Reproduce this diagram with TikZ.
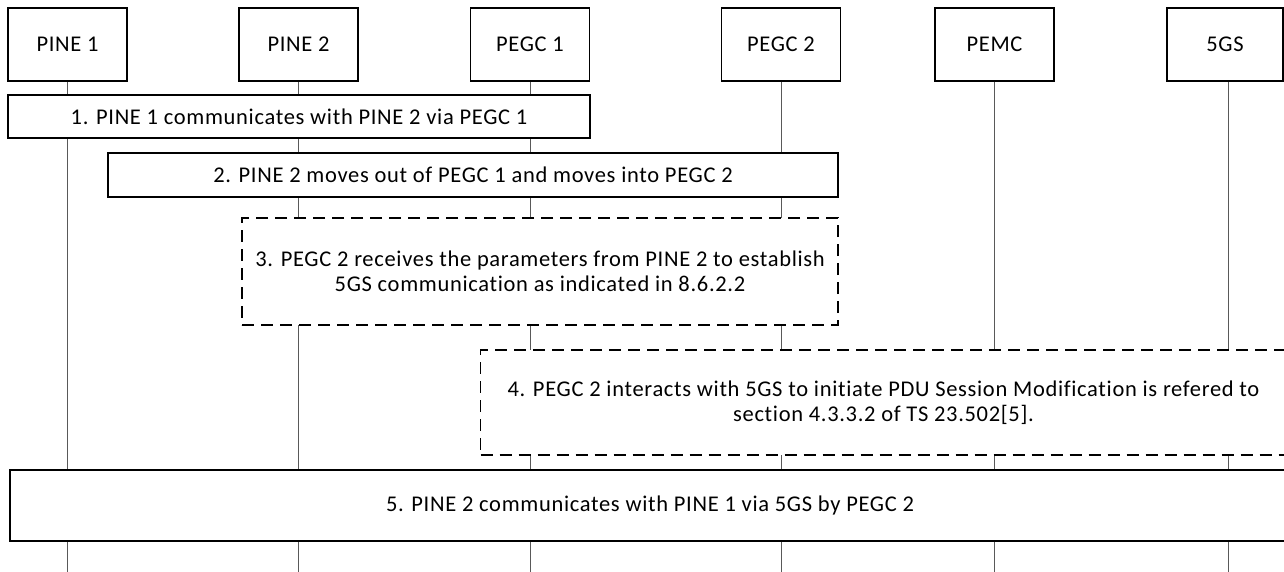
\documentclass[tikz,border=0pt]{standalone}
\usepackage{fontspec}
\setmainfont[LetterSpace=3,Ligatures=NoCommon]{Carlito}
\begin{document}
\begin{tikzpicture}[x=1pt,y=-1pt,
  every node/.style={font=\fontsize{22.5}{25}\selectfont, inner sep=0pt, align=center},
  head/.style={draw=black, line width=1.6pt, fill=white, minimum width=119pt, minimum height=73pt},
  stepbox/.style={draw=black, line width=1.6pt, fill=white},
  dashbox/.style={draw=black, line width=1.6pt, fill=white, dash pattern=on 12pt off 7pt},
  life/.style={draw=black!65, line width=0.9pt}]
\useasboundingbox (0,0) rectangle (1284,572);
\fill[white] (0,0) rectangle (1284,572);
% headers
\node[head] (p1) at (67.5,44.5) {PINE 1};
\node[head] (p2) at (298.5,44.5) {PINE 2};
\node[head] (g1) at (530,44.5) {PEGC 1};
\node[head] (g2) at (781,44.5) {PEGC 2};
\node[head] (pm) at (994.5,44.5) {PEMC};
\node[head, minimum width=116pt] (gs) at (1225,44.5) {5GS};
% lifeline ends
\coordinate (e1) at (67.5,572);
\coordinate (e2) at (298.5,572);
\coordinate (e3) at (530,572);
\coordinate (e4) at (781,572);
\coordinate (e5) at (994.5,572);
\coordinate (e6) at (1228,572);
\draw[life] (p1.south) -- (e1);
\draw[life] (p2.south) -- (e2);
\draw[life] (g1.south) -- (e3);
\draw[life] (g2.south) -- (e4);
\draw[life] (pm.south) -- (e5);
\draw[life] (gs.south -| e6) -- (e6);
% steps
\node[stepbox, minimum width=582pt, minimum height=43pt] (s1) at (299,116.5) {1. PINE 1 communicates with PINE 2 via PEGC 1};
\node[stepbox, minimum width=730pt, minimum height=44pt] (s2) at (473,175) {2. PINE 2 moves out of PEGC 1 and moves into PEGC 2};
\node[dashbox, minimum width=596pt, minimum height=107pt] (s3) at (540,271.5) {3. PEGC 2 receives the parameters from PINE 2 to establish\\5GS communication as indicated in 8.6.2.2};
\node[dashbox, minimum width=806pt, minimum height=105pt] (s4) at (883.5,402.5) {4. PEGC 2 interacts with 5GS to initiate PDU Session Modification is refered to\\section 4.3.3.2 of TS 23.502[5].};
\node[stepbox, minimum width=1280pt, minimum height=71pt] (s5) at (650,505.5) {5. PINE 2 communicates with PINE 1 via 5GS by PEGC 2};
\end{tikzpicture}
\end{document}
